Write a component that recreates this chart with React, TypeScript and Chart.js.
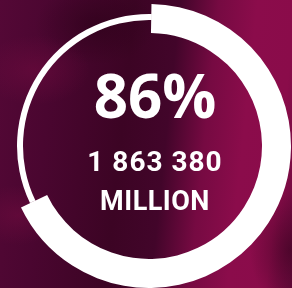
import React, { useEffect, useRef } from "react";
import { Chart, registerables } from "chart.js";

Chart.register(...registerables);

// ---- data ----
const segmentLabels = ["Reached", "Remaining"];
const arcShares = [67.6, 32.4]; // share of the full circle drawn by the thick arc vs the thin remainder
const headlinePercent = "86%";
const headlineAmount = "1 863 380";
const headlineUnit = "MILLION";

const W = 292;
const H = 288;

const baseOptions = (radius: number, inner: number) =>
  ({
    responsive: false,
    animation: false,
    rotation: 1,
    radius,
    cutout: `${(inner / radius) * 100}%`,
    layout: { padding: { left: 7, right: 1, top: 4, bottom: 0 } },
    plugins: { legend: { display: false }, tooltip: { enabled: false } },
    events: [],
  } as any);

export default function App() {
  const thinRef = useRef<HTMLCanvasElement | null>(null);
  const thickRef = useRef<HTMLCanvasElement | null>(null);

  useEffect(() => {
    const white = "#ffffff";
    const clear = "rgba(255,255,255,0)";
    const thin = new Chart(thinRef.current as HTMLCanvasElement, {
      type: "doughnut",
      data: {
        labels: segmentLabels,
        datasets: [
          {
            data: arcShares,
            backgroundColor: [white, white],
            borderWidth: 0,
          },
        ],
      },
      options: baseOptions(132, 126),
    });
    const thick = new Chart(thickRef.current as HTMLCanvasElement, {
      type: "doughnut",
      data: {
        labels: segmentLabels,
        datasets: [
          {
            data: arcShares,
            backgroundColor: [white, clear],
            borderWidth: 0,
          },
        ],
      },
      options: baseOptions(142, 113),
    });
    return () => {
      thin.destroy();
      thick.destroy();
    };
  }, []);

  const bg = [
    "radial-gradient(ellipse 55px 35px at 35px 70px, rgba(120,12,66,0.45), rgba(120,12,66,0))",
    "radial-gradient(ellipse 45px 30px at 18px 215px, rgba(120,12,66,0.45), rgba(120,12,66,0))",
    "radial-gradient(ellipse 60px 40px at 95px 25px, rgba(35,0,18,0.45), rgba(35,0,18,0))",
    "radial-gradient(ellipse 40px 60px at 290px 250px, rgba(50,2,28,0.55), rgba(50,2,28,0))",
    "linear-gradient(96deg, #540836 0%, #4a0630 18%, #3c0424 42%, #42052a 56%, #760a42 68%, #8b0c4b 80%, #8a0c4a 92%, #6a0a3d 100%)",
  ].join(",");

  const textBase: React.CSSProperties = {
    position: "absolute",
    left: 55,
    width: 200,
    textAlign: "center",
    color: "#ffffff",
    whiteSpace: "nowrap",
    margin: 0,
  };

  const canvasStyle: React.CSSProperties = {
    position: "absolute",
    left: 0,
    top: 0,
    width: W,
    height: H,
  };

  return (
    <div
      style={{
        position: "fixed",
        left: 0,
        top: 0,
        width: W,
        height: H,
        overflow: "hidden",
        background: bg,
      }}
    >
      <canvas ref={thinRef} width={W} height={H} style={canvasStyle} />
      <canvas ref={thickRef} width={W} height={H} style={canvasStyle} />
      <div
        style={{
          ...textBase,
          top: 65,
          fontFamily: "'Open Sans', sans-serif",
          fontWeight: 700,
          fontSize: 60,
          lineHeight: "60px",
        }}
      >
        {headlinePercent}
      </div>
      <div
        style={{
          ...textBase,
          top: 148,
          fontFamily: "Roboto, sans-serif",
          fontWeight: 700,
          fontSize: 28,
          lineHeight: "28px",
          letterSpacing: "1px",
        }}
      >
        {headlineAmount}
      </div>
      <div
        style={{
          ...textBase,
          top: 188,
          fontFamily: "Roboto, sans-serif",
          fontWeight: 700,
          fontSize: 27,
          lineHeight: "27px",
          letterSpacing: "0.5px",
        }}
      >
        {headlineUnit}
      </div>
    </div>
  );
}
